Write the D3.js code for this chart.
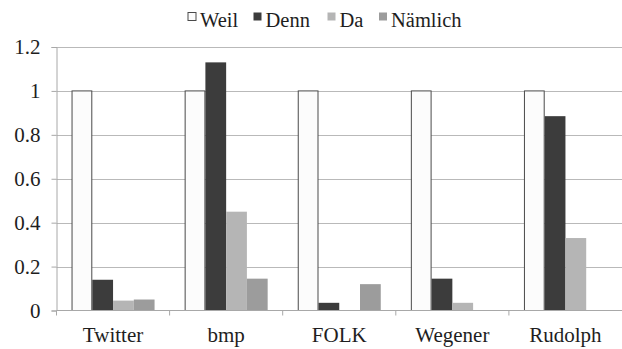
<!DOCTYPE html>
<html>
<head>
<meta charset="utf-8">
<script src="https://cdn.jsdelivr.net/npm/d3@7/dist/d3.min.js"></script>
<style>
  svg#chart text { font-family: "Liberation Serif", serif !important; }
</style>
</head>
<body style="margin:0;background:#fff">
<svg id="chart" width="622" height="349" font-family="Liberation Serif" style="display:block"></svg>
<script>
// Corpora along the x axis
const categories = ["Twitter", "bmp", "FOLK", "Wegener", "Rudolph"];
// Connectives, one bar per corpus each
const seriesNames = ["Weil", "Denn", "Da", "Nämlich"];
// Relative frequency of each connective (Weil = 1)
const weilValues     = [1, 1, 1, 1, 1];
const dennValues     = [0.14, 1.13, 0.035, 0.145, 0.885];
const daValues       = [0.045, 0.45, 0, 0.035, 0.33];
const naemlichValues = [0.05, 0.145, 0.12, 0, 0];
const yTicks = [0, 0.2, 0.4, 0.6, 0.8, 1, 1.2];
const yTickLabels = ["0", "0.2", "0.4", "0.6", "0.8", "1", "1.2"];

const seriesValues = [weilValues, dennValues, daValues, naemlichValues];
const fills   = ["#fcfcfc", "#3c3c3c", "#b5b5b5", "#9c9c9c"];
const strokes = ["#4a4a4a", "none", "none", "none"];
const FONT = "Liberation Serif";
const TEXT_COLOR = "#1e1e1e";

const svg = d3.select("#chart");
const plotLeft = 56.5, plotRight = 622, plotTop = 47, plotBottom = 310.5;

const x0 = d3.scaleBand().domain(categories).range([plotLeft, plotRight]).padding(0);
const gap = x0.bandwidth() * 0.133;
const x1 = d3.scaleBand().domain(seriesNames).range([gap, x0.bandwidth() - gap]).padding(0);
const y = d3.scaleLinear().domain([0, 1.2]).range([plotBottom, plotTop]);

// Horizontal gridlines
svg.append("g")
  .selectAll("line")
  .data(yTicks.filter(t => t > 0))
  .join("line")
  .attr("x1", plotLeft).attr("x2", plotRight)
  .attr("y1", d => Math.round(y(d)) + 0.5).attr("y2", d => Math.round(y(d)) + 0.5)
  .attr("stroke", "#b9b9b9").attr("stroke-width", 1);

// Bars
const groups = svg.append("g")
  .selectAll("g")
  .data(categories)
  .join("g")
  .attr("transform", c => `translate(${x0(c)},0)`);

groups.selectAll("rect")
  .data((c, i) => seriesNames.map((s, k) => ({ s, k, v: seriesValues[k][i] })).filter(d => d.v > 0))
  .join("rect")
  .attr("x", d => x1(d.s) + (d.k === 0 ? 0.5 : 0))
  .attr("width", d => x1.bandwidth() - (d.k === 0 ? 1 : 0))
  .attr("y", d => y(d.v))
  .attr("height", d => y(0) - y(d.v))
  .attr("fill", d => fills[d.k])
  .attr("stroke", d => strokes[d.k])
  .attr("stroke-width", 1);

// Y axis
const yAxis = d3.axisLeft(y)
  .tickValues(yTicks)
  .tickFormat((d, i) => yTickLabels[i])
  .tickSize(5)
  .tickPadding(11);
const gy = svg.append("g")
  .attr("transform", `translate(${plotLeft},0)`)
  .call(yAxis)
  .attr("font-family", FONT)
  .attr("font-size", 21);
gy.select(".domain").attr("stroke", "#a8a8a8");
gy.selectAll(".tick line").attr("stroke", "#a8a8a8");
gy.selectAll(".tick text").attr("fill", TEXT_COLOR);

// X axis: tick marks at category boundaries, labels centred in each band
const gx = svg.append("g").attr("transform", `translate(0,${plotBottom})`);
gx.append("line")
  .attr("x1", plotLeft).attr("x2", plotRight)
  .attr("y1", 0).attr("y2", 0)
  .attr("stroke", "#a8a8a8");
gx.selectAll("line.tk")
  .data(categories)
  .join("line")
  .attr("class", "tk")
  .attr("x1", c => x0(c)).attr("x2", c => x0(c))
  .attr("y1", 0).attr("y2", 5)
  .attr("stroke", "#a8a8a8");
gx.selectAll("text")
  .data(categories)
  .join("text")
  .attr("x", c => x0(c) + x0.bandwidth() / 2)
  .attr("y", 31)
  .attr("text-anchor", "middle")
  .attr("font-size", 21)
  .attr("fill", TEXT_COLOR)
  .text(c => c);

// Legend
const legendX = [187.5, 253, 327, 378.5];
const legend = svg.append("g");
const items = legend.selectAll("g")
  .data(seriesNames)
  .join("g")
  .attr("transform", (d, i) => `translate(${legendX[i]},0)`);
items.append("rect")
  .attr("x", 0.5).attr("y", 12.5)
  .attr("width", 8).attr("height", 8)
  .attr("fill", (d, i) => fills[i])
  .attr("stroke", (d, i) => i === 0 ? "#4a4a4a" : "none");
items.append("text")
  .attr("x", 12.5)
  .attr("y", 27)
  .attr("font-size", 20.5)
  .attr("fill", TEXT_COLOR)
  .text(d => d);

// Serif face for every label
svg.selectAll("text")
  .attr("font-family", FONT)
  .style("font-family", "'Liberation Serif', serif", "important");
</script>
</body>
</html>
